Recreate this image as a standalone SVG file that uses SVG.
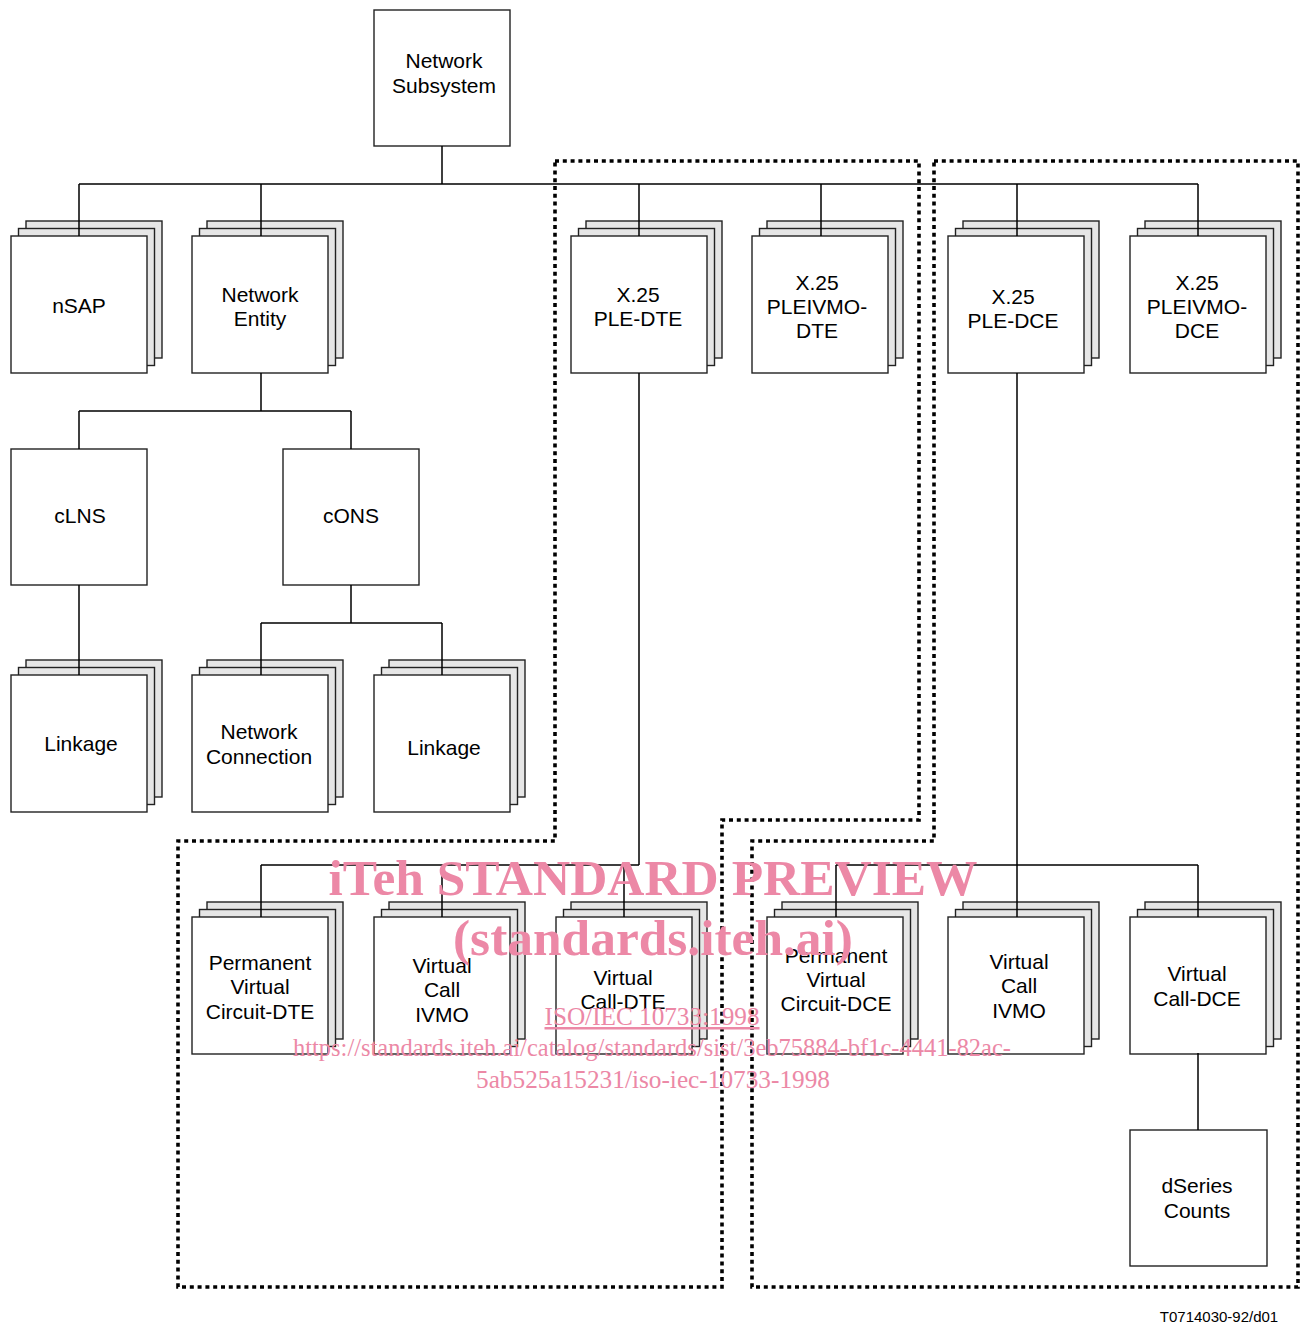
<svg xmlns="http://www.w3.org/2000/svg" xmlns:xlink="http://www.w3.org/1999/xlink" width="1302" height="1324" viewBox="0 0 1302 1324">
<style>
.box{fill:#fff;stroke:#222;stroke-width:1.4}
.layer{fill:#e6e6e6;stroke:#222;stroke-width:1.4}
.lbl{font-family:"Liberation Sans",Arial,sans-serif;font-size:21px;fill:#000;text-anchor:middle}
.conn{fill:none;stroke:#000;stroke-width:1.5}
.dot{fill:none;stroke:#000;stroke-width:3.6;stroke-dasharray:4 3.8}
.wm{font-family:"Liberation Serif","Times New Roman",serif;fill:#ec88a6;text-anchor:middle}
.cap{font-family:"Liberation Sans",Arial,sans-serif;font-size:15px;fill:#000;text-anchor:middle}
</style>
<defs>
<g id="stack">
<rect class="layer" x="15" y="-15" width="136" height="137"/>
<rect class="layer" x="7.5" y="-7.5" width="136" height="137"/>
<rect class="box" x="0" y="0" width="136" height="137"/>
</g>
</defs>
<rect width="1302" height="1324" fill="#fff"/>

<g id="regions">
<path class="dot" d="M555 161 H919 V820 H722 V1287 H178 V841 H555 Z"/>
<path class="dot" d="M934 161 H1298 V1287 H752 V841 H934 Z"/>
</g>

<g id="n-subsystem"><rect class="box" x="374" y="10" width="136" height="136"/><text class="lbl" x="444" y="68">Network</text><text class="lbl" x="444" y="93">Subsystem</text></g>
<g id="n-nsap"><use xlink:href="#stack" x="11" y="236"/><text class="lbl" x="79" y="313">nSAP</text></g>
<g id="n-netentity"><use xlink:href="#stack" x="192" y="236"/><text class="lbl" x="260" y="302">Network</text><text class="lbl" x="260" y="326">Entity</text></g>
<g id="n-pledte"><use xlink:href="#stack" x="571" y="236"/><text class="lbl" x="638" y="302">X.25</text><text class="lbl" x="638" y="326">PLE-DTE</text></g>
<g id="n-pleivmodte"><use xlink:href="#stack" x="752" y="236"/><text class="lbl" x="817" y="290">X.25</text><text class="lbl" x="817" y="314">PLEIVMO-</text><text class="lbl" x="817" y="338">DTE</text></g>
<g id="n-pledce"><use xlink:href="#stack" x="948" y="236"/><text class="lbl" x="1013" y="304">X.25</text><text class="lbl" x="1013" y="328">PLE-DCE</text></g>
<g id="n-pleivmodce"><use xlink:href="#stack" x="1130" y="236"/><text class="lbl" x="1197" y="290">X.25</text><text class="lbl" x="1197" y="314">PLEIVMO-</text><text class="lbl" x="1197" y="338">DCE</text></g>
<g id="n-clns"><rect class="box" x="11" y="449" width="136" height="136"/><text class="lbl" x="80" y="523">cLNS</text></g>
<g id="n-cons"><rect class="box" x="283" y="449" width="136" height="136"/><text class="lbl" x="351" y="523">cONS</text></g>
<g id="n-linkage1"><use xlink:href="#stack" x="11" y="675"/><text class="lbl" x="81" y="751">Linkage</text></g>
<g id="n-netconn"><use xlink:href="#stack" x="192" y="675"/><text class="lbl" x="259" y="739">Network</text><text class="lbl" x="259" y="764">Connection</text></g>
<g id="n-linkage2"><use xlink:href="#stack" x="374" y="675"/><text class="lbl" x="444" y="755">Linkage</text></g>
<g id="n-pvcdte"><use xlink:href="#stack" x="192" y="917"/><text class="lbl" x="260" y="970">Permanent</text><text class="lbl" x="260" y="994">Virtual</text><text class="lbl" x="260" y="1019">Circuit-DTE</text></g>
<g id="n-vcivmodte"><use xlink:href="#stack" x="374" y="917"/><text class="lbl" x="442" y="973">Virtual</text><text class="lbl" x="442" y="997">Call</text><text class="lbl" x="442" y="1022">IVMO</text></g>
<g id="n-vcdte"><use xlink:href="#stack" x="556" y="917"/><text class="lbl" x="623" y="985">Virtual</text><text class="lbl" x="623" y="1009">Call-DTE</text></g>
<g id="n-pvcdce"><use xlink:href="#stack" x="767" y="917"/><text class="lbl" x="836" y="963">Permanent</text><text class="lbl" x="836" y="987">Virtual</text><text class="lbl" x="836" y="1011">Circuit-DCE</text></g>
<g id="n-vcivmodce"><use xlink:href="#stack" x="948" y="917"/><text class="lbl" x="1019" y="969">Virtual</text><text class="lbl" x="1019" y="993">Call</text><text class="lbl" x="1019" y="1018">IVMO</text></g>
<g id="n-vcdce"><use xlink:href="#stack" x="1130" y="917"/><text class="lbl" x="1197" y="981">Virtual</text><text class="lbl" x="1197" y="1006">Call-DCE</text></g>
<g id="n-dseries"><rect class="box" x="1130" y="1130" width="137" height="136"/><text class="lbl" x="1197" y="1193">dSeries</text><text class="lbl" x="1197" y="1218">Counts</text></g>

<g id="connectors" class="conn">
<path d="M442 146 V184 M79 184 H1198 M79 184 V236 M261 184 V236 M639 184 V236 M821 184 V236 M1017 184 V236 M1198 184 V236"/>
<path d="M261 373 V411 M79 411 H351 M79 411 V449 M351 411 V449"/>
<path d="M79 585 V675"/>
<path d="M351 585 V623 M261 623 H442 M261 623 V675 M442 623 V675"/>
<path d="M639 373 V865 M261 865 H639 M261 865 V917 M442 865 V917 M624 865 V917"/>
<path d="M1017 373 V917 M836 865 H1198 M836 865 V917 M1198 865 V917"/>
<path d="M1198 1053 V1130"/>
</g>

<text class="cap" x="1219" y="1322">T0714030-92/d01</text>

<g id="watermark">
<text class="wm" x="653" y="895" font-size="51" font-weight="bold" textLength="649" lengthAdjust="spacingAndGlyphs">iTeh STANDARD PREVIEW</text>
<text class="wm" x="653" y="955" font-size="51" font-weight="bold" textLength="400" lengthAdjust="spacingAndGlyphs">(standards.iteh.ai)</text>
<text class="wm" x="652" y="1025" font-size="25" text-decoration="underline" textLength="215" lengthAdjust="spacingAndGlyphs">ISO/IEC 10733:1998</text>
<text class="wm" x="652" y="1056" font-size="25" textLength="718" lengthAdjust="spacingAndGlyphs">https://standards.iteh.ai/catalog/standards/sist/3eb75884-bf1c-4441-82ac-</text>
<text class="wm" x="653" y="1088" font-size="25" textLength="354" lengthAdjust="spacingAndGlyphs">5ab525a15231/iso-iec-10733-1998</text>
</g>
</svg>
